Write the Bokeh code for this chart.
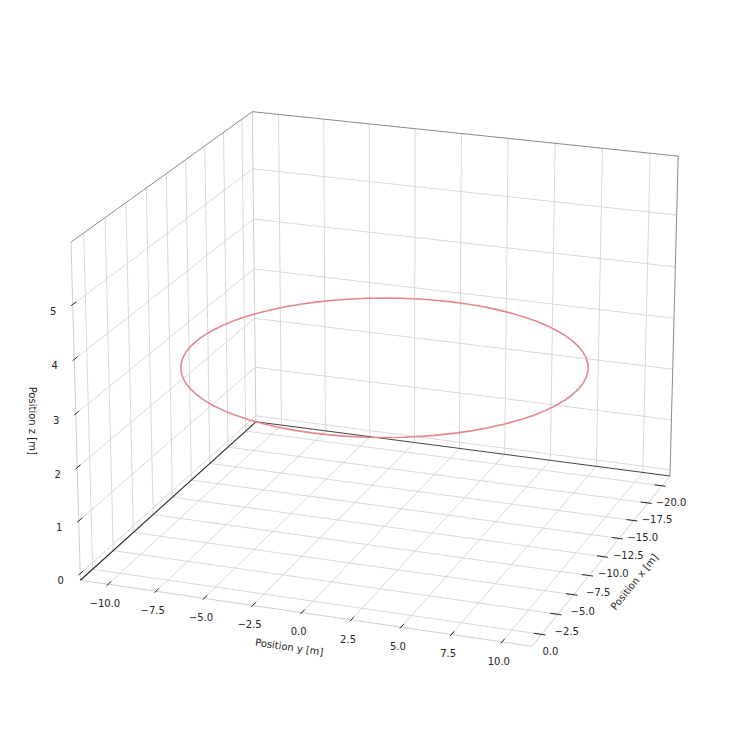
import numpy as np
from bokeh.plotting import figure
from bokeh.models import Range1d
from bokeh.embed import file_html
from bokeh.resources import INLINE
from bokeh.core.properties import value

# ---------------- data (trajectory) ----------------
traj_x = [0.00, -0.04, -0.15, -0.34, -0.60, -0.94, -1.34, -1.81, -2.34, -2.93,
          -3.57, -4.26, -5.00, -5.77, -6.58, -7.41, -8.26, -9.13, -10.00, -10.87,
          -11.74, -12.59, -13.42, -14.23, -15.00, -15.74, -16.43, -17.07, -17.66, -18.19,
          -18.66, -19.06, -19.40, -19.66, -19.85, -19.96, -20.00,
          -19.96, -19.85, -19.66, -19.40, -19.06, -18.66, -18.19, -17.66, -17.07,
          -16.43, -15.74, -15.00, -14.23, -13.42, -12.59, -11.74, -10.87, -10.00,
          -9.13, -8.26, -7.41, -6.58, -5.77, -5.00, -4.26, -3.57, -2.93, -2.34,
          -1.81, -1.34, -0.94, -0.60, -0.34, -0.15, -0.04, 0.00]
traj_y = [0.00, 0.87, 1.74, 2.59, 3.42, 4.23, 5.00, 5.74, 6.43, 7.07,
          7.66, 8.19, 8.66, 9.06, 9.40, 9.66, 9.85, 9.96, 10.00, 9.96,
          9.85, 9.66, 9.40, 9.06, 8.66, 8.19, 7.66, 7.07, 6.43, 5.74,
          5.00, 4.23, 3.42, 2.59, 1.74, 0.87, 0.00,
          -0.87, -1.74, -2.59, -3.42, -4.23, -5.00, -5.74, -6.43, -7.07,
          -7.66, -8.19, -8.66, -9.06, -9.40, -9.66, -9.85, -9.96, -10.00,
          -9.96, -9.85, -9.66, -9.40, -9.06, -8.66, -8.19, -7.66, -7.07, -6.43,
          -5.74, -5.00, -4.23, -3.42, -2.59, -1.74, -0.87, 0.00]
traj_altitude = 3.0

x_ticks = [-20.0, -17.5, -15.0, -12.5, -10.0, -7.5, -5.0, -2.5, 0.0]
x_tick_labels = ["\u221220.0", "\u221217.5", "\u221215.0", "\u221212.5", "\u221210.0",
                 "\u22127.5", "\u22125.0", "\u22122.5", "0.0"]
y_ticks = [-10.0, -7.5, -5.0, -2.5, 0.0, 2.5, 5.0, 7.5, 10.0]
y_tick_labels = ["\u221210.0", "\u22127.5", "\u22125.0", "\u22122.5", "0.0",
                 "2.5", "5.0", "7.5", "10.0"]
z_ticks = [0, 1, 2, 3, 4, 5]
z_tick_labels = ["0", "1", "2", "3", "4", "5"]

x_title = "Position x [m]"
y_title = "Position y [m]"
z_title = "Position z [m]"

x_view = (-21.0, 1.0)
y_view = (-11.0, 11.0)
z_view = (0.0, 6.0)

# ---------------- 3D projection (matplotlib-like, perspective) ----------------
ELEV, AZIM, DIST = 20.0, 20.0, 10.0


def padded(lim):
    lo, hi = lim
    d = (hi - lo) / 48.0
    return lo - d, hi + d


XB, YB, ZB = padded(x_view), padded(y_view), padded(z_view)
aspect = np.array([4.0, 4.0, 3.0])
aspect = aspect * 1.8294640721620434 / np.linalg.norm(aspect)
Rc = aspect / 2.0
el, az = np.deg2rad(ELEV), np.deg2rad(AZIM)
w_ax = np.array([np.cos(el) * np.cos(az), np.cos(el) * np.sin(az), np.sin(el)])
u_ax = np.cross([0.0, 0.0, 1.0], w_ax)
u_ax /= np.linalg.norm(u_ax)
v_ax = np.cross(w_ax, u_ax)
eye = Rc + DIST * w_ax


def proj(x, y, z):
    x, y, z = np.broadcast_arrays(np.asarray(x, float), np.asarray(y, float), np.asarray(z, float))
    pts = np.stack([(x - XB[0]) / (XB[1] - XB[0]) * aspect[0],
                    (y - YB[0]) / (YB[1] - YB[0]) * aspect[1],
                    (z - ZB[0]) / (ZB[1] - ZB[0]) * aspect[2]], axis=-1)
    d = pts - eye
    X, Y, Z = d @ u_ax, d @ v_ax, d @ w_ax
    return X / -Z, Y / -Z


# ---------------- figure ----------------
W = H = 731
SCALE = 4080.0
CX, CY = 384.0, 364.0

p = figure(width=W, height=H,
           x_range=Range1d(-CX / SCALE, (W - CX) / SCALE),
           y_range=Range1d(-(H - CY) / SCALE, CY / SCALE),
           output_backend="svg", toolbar_location=None,
           x_axis_location=None, y_axis_location=None,
           min_border=0, outline_line_color=None,
           background_fill_color="white", border_fill_color="white")
p.grid.visible = False

x0, x1 = XB
y0, y1 = YB
z0, z1 = ZB


def draw(polys, color, width):
    xs, ys = [], []
    for (px, py, pz) in polys:
        sx, sy = proj(px, py, pz)
        xs.append(list(sx))
        ys.append(list(sy))
    p.multi_line(xs, ys, line_color=color, line_width=width)


# grid lines
grid = []
for t in x_ticks:
    grid.append(([t, t, t], [y1, y0, y0], [z0, z0, z1]))
for t in y_ticks:
    grid.append(([x1, x0, x0], [t, t, t], [z0, z0, z1]))
for t in z_ticks:
    grid.append(([x1, x0, x0], [y0, y0, y1], [t, t, t]))
draw(grid, "#d4d4d4", 0.9)

# light edges
draw([([x0, x0], [y0, y0], [z0, z1]),
      ([x1, x1], [y0, y0], [z0, z1]),
      ([x1, x1], [y0, y1], [z0, z0]),
      ([x1, x0], [y1, y1], [z0, z0])], "#cfcfcf", 1.0)
# gray pane edges
draw([([x1, x0, x0, x0], [y0, y0, y1, y1], [z1, z1, z1, z0])], "#8a8a8a", 1.0)
# dark floor edges
draw([([x1, x0], [y0, y0], [z0, z0])], "#262626", 1.1)
draw([([x0, x0], [y0, y1], [z0, z0])], "#444444", 1.1)

# tick marks
dx, dy, dz = (x1 - x0) / 12.0, (y1 - y0) / 12.0, (z1 - z0) / 12.0
ticks = []
for t in x_ticks:
    ticks.append(([t, t], [y1 + 0.1 * dy, y1 - 0.2 * dy], [z0, z0]))
for t in y_ticks:
    ticks.append(([x1 + 0.1 * dx, x1 - 0.2 * dx], [t, t], [z0, z0]))
for t in z_ticks:
    ticks.append(([x1 + 0.1 * dx, x1 - 0.2 * dx], [y0, y0], [t, t]))
draw(ticks, "#262626", 1.0)

# trajectory
tx, ty = proj(traj_x, traj_y, np.full(len(traj_x), traj_altitude))
p.line(tx, ty, line_color="#e6878f", line_width=1.6)

# tick labels
FONT = value("DejaVu Sans")
TXT = "#262626"


def labels(sx, sy, texts, ox, oy, angle=0.0, size="10px"):
    p.text(x=list(np.atleast_1d(sx) + ox / SCALE), y=list(np.atleast_1d(sy) - oy / SCALE),
           text=list(texts), text_font=FONT, text_font_size=value(size),
           text_color=TXT, text_align="center", text_baseline="middle", angle=angle)


sx, sy = proj(x_ticks, y1, z0)
labels(sx, sy, x_tick_labels, 9.0, 16.5)
sx, sy = proj(x1, y_ticks, z0)
labels(sx, sy, y_tick_labels, -3.2, 18.8)
sx, sy = proj(x1, y0, z_ticks)
labels(sx, sy, z_tick_labels, -19.5, 6.0)

# axis titles
cx_, cy_ = proj([x1, x0], [y1, y1], [z0, z0])
ang_x = np.arctan2(cy_[1] - cy_[0], cx_[1] - cx_[0])
mx, my = proj((x0 + x1) / 2, y1, z0)
labels(mx, my, [x_title], 30.0, 25.0, angle=float(ang_x))

cx_, cy_ = proj([x1, x1], [y0, y1], [z0, z0])
ang_y = np.arctan2(cy_[1] - cy_[0], cx_[1] - cx_[0])
mx, my = proj(x1, (y0 + y1) / 2, z0)
labels(mx, my, [y_title], -12.5, 34.5, angle=float(ang_y))

mx, my = proj(x1, y0, (z0 + z1) / 2)
labels(mx, my, [z_title], -43.5, 7.0, angle=-np.pi / 2)

open("out.html", "w").write(file_html(p, INLINE))
